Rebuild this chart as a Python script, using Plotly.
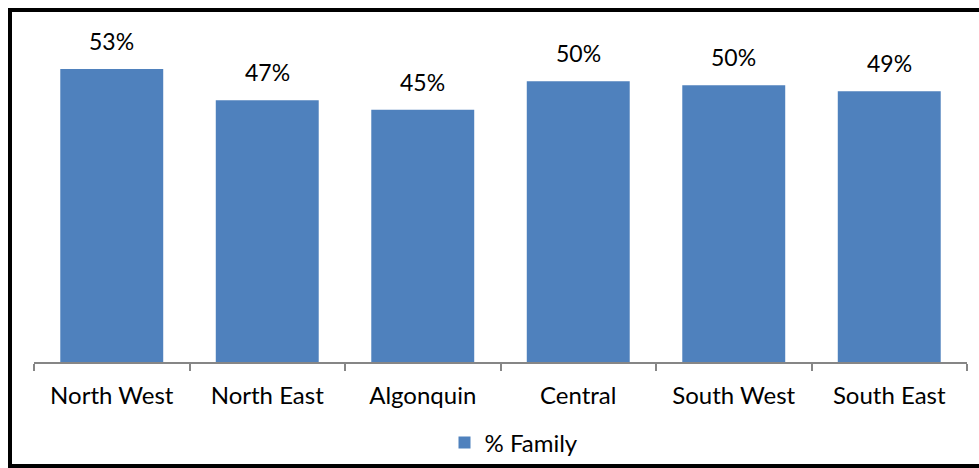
import plotly.graph_objects as go

categories = ["North West", "North East", "Algonquin", "Central", "South West", "South East"]
family_share = [0.526, 0.470, 0.453, 0.504, 0.497, 0.486]
series_name = "% Family"

W, H = 979, 468
# plot area in page pixels
PX0, PX1, PY0, PY1 = 34, 967, 20, 362
L, R, T, B = PX0, W - PX1, PY0, H - PY1
pw, ph = W - L - R, H - T - B

def px_x(p):
    return (p - PX0) / pw

def px_y(p):
    return (PY1 - p) / ph

FONT = "Lato"

fig = go.Figure()
fig.add_trace(go.Bar(
    x=categories, y=family_share, name=series_name,
    marker=dict(color="#4F81BD", line=dict(width=0)),
    showlegend=True,
))

for c, v in zip(categories, family_share):
    fig.add_annotation(x=c, y=v, text=f"{round(v*100)}%", showarrow=False,
                       yanchor="bottom", yshift=12,
                       font=dict(family=FONT, size=23, color="#000000"))

fig.add_shape(type="rect", xref="paper", yref="paper",
              x0=px_x(10), x1=px_x(1000), y0=px_y(466), y1=px_y(10),
              line=dict(color="#000000", width=4), layer="above")

fig.update_layout(
    width=W, height=H,
    margin=dict(l=L, r=R, t=T, b=B, pad=0, autoexpand=False),
    paper_bgcolor="white", plot_bgcolor="white",
    bargap=0.338,
    font=dict(family=FONT, size=24, color="#000000"),
    xaxis=dict(type="category", showline=True, linecolor="#868686", linewidth=1.5,
               ticks="outside", tickson="boundaries", ticklen=7, tickcolor="#868686",
               tickwidth=1.5, showgrid=False, ticklabelstandoff=11, automargin=False,
               tickfont=dict(family=FONT, size=24, color="#000000")),
    yaxis=dict(range=[0, 0.614], visible=False, showgrid=False, automargin=False),
    legend=dict(orientation="h", xref="container", yref="container",
                x=514 / W, xanchor="center", y=1 - 443 / H, yanchor="middle",
                font=dict(family=FONT, size=24, color="#000000"),
                itemwidth=30, bgcolor="rgba(0,0,0,0)"),
)

fig.write_html("out.html", config={"displayModeBar": False},
               post_script="document.body.style.margin='0';document.body.style.overflow='hidden';")
